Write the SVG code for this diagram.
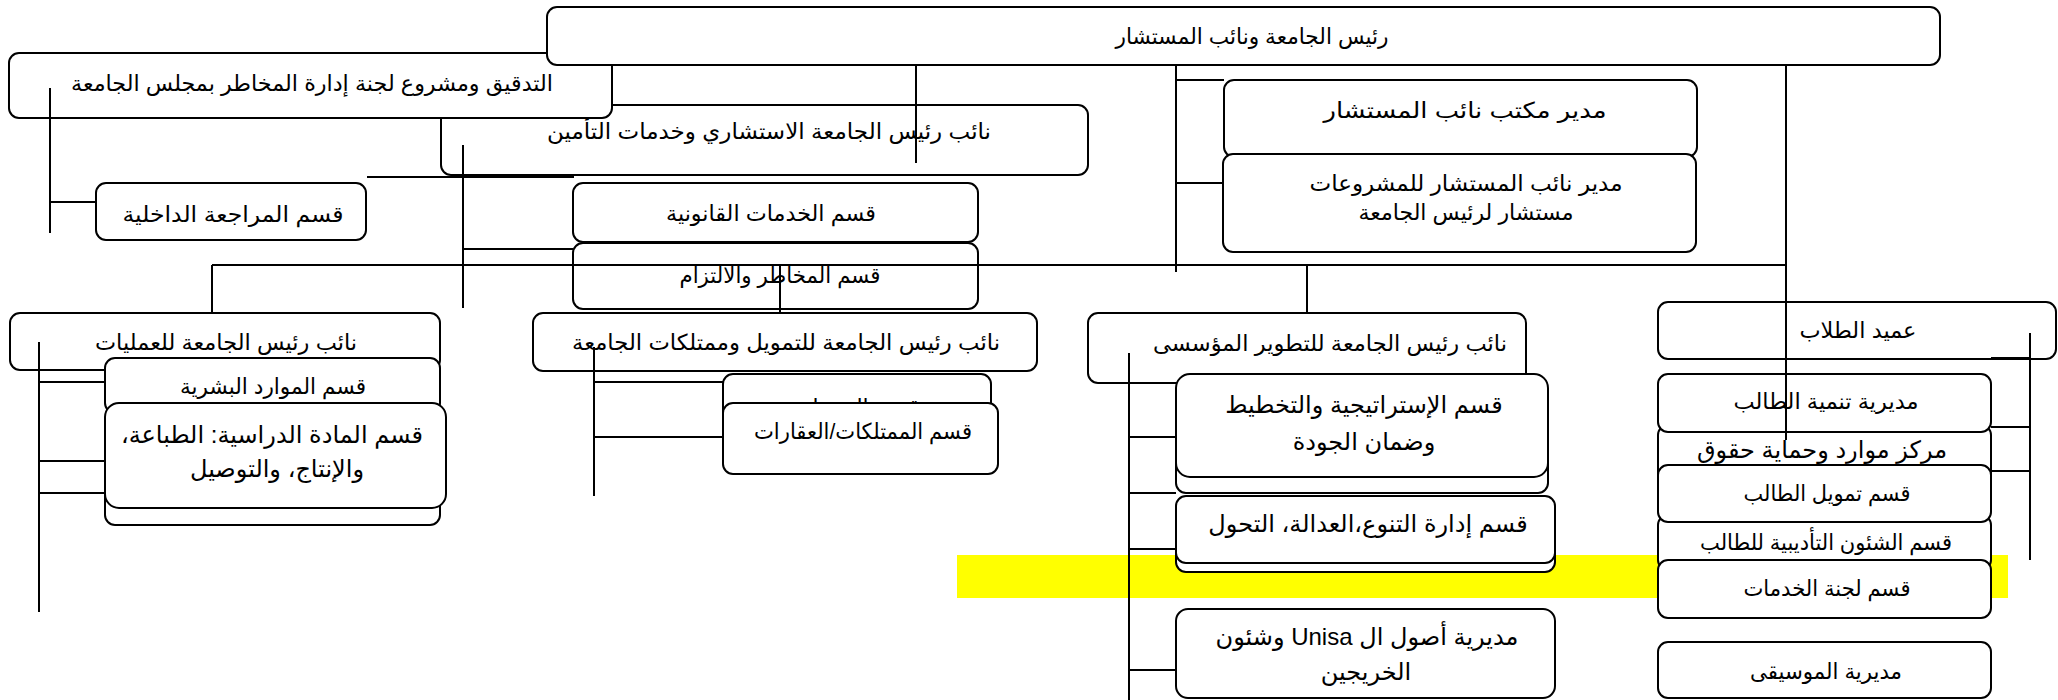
<svg xmlns="http://www.w3.org/2000/svg" width="2058" height="700" viewBox="0 0 2058 700">
<style>
.b{fill:#fff;stroke:#000;stroke-width:2}
.t{font-family:"Liberation Sans","DejaVu Sans",sans-serif;font-size:22px;text-anchor:middle;fill:#000;direction:rtl}
.l{font-size:24px}
.c{stroke:#000;stroke-width:2;fill:none}
</style>
<rect x="957" y="555" width="1051" height="43" fill="#ffff00"/>
<g id="n-istishari"><rect class="b" x="441" y="105" width="647" height="70" rx="10"/><text class="t" x="769" y="139" textLength="444" lengthAdjust="spacingAndGlyphs">نائب رئيس الجامعة الاستشاري وخدمات التأمين</text></g>
<g id="n-tadqiq"><rect class="b" x="9" y="53" width="603" height="65" rx="10"/><text class="t" x="312" y="91" textLength="482" lengthAdjust="spacingAndGlyphs">التدقيق ومشروع لجنة إدارة المخاطر بمجلس الجامعة</text></g>
<g id="n-top"><rect class="b" x="547" y="7" width="1393" height="58" rx="10"/><text class="t" x="1252" y="44" textLength="273" lengthAdjust="spacingAndGlyphs">رئيس الجامعة ونائب المستشار</text></g>
<g id="n-muraja"><rect class="b" x="96" y="183" width="270" height="57" rx="10"/><text class="t" x="233" y="222" textLength="221" lengthAdjust="spacingAndGlyphs">قسم المراجعة الداخلية</text></g>
<g id="n-maktab"><rect class="b" x="1224" y="80" width="473" height="77" rx="10"/><text class="t" x="1465" y="118" textLength="283" lengthAdjust="spacingAndGlyphs">مدير مكتب نائب المستشار</text></g>
<g id="n-mashrouat"><rect class="b" x="1223" y="154" width="473" height="98" rx="10"/><text class="t" x="1466" y="191" textLength="313" lengthAdjust="spacingAndGlyphs">مدير نائب المستشار للمشروعات</text><text class="t" x="1466" y="220" textLength="215" lengthAdjust="spacingAndGlyphs">مستشار لرئيس الجامعة</text></g>
<g id="n-qanuniya"><rect class="b" x="573" y="183" width="405" height="59" rx="10"/><text class="t" x="771" y="221" textLength="210" lengthAdjust="spacingAndGlyphs">قسم الخدمات القانونية</text></g>
<g id="n-makhater"><rect class="b" x="573" y="243" width="405" height="66" rx="10"/><text class="t" x="780" y="283" textLength="201" lengthAdjust="spacingAndGlyphs">قسم المخاطر والالتزام</text></g>
<g id="n-amaliyat"><rect class="b" x="10" y="313" width="430" height="57" rx="10"/><text class="t" x="226" y="350" textLength="262" lengthAdjust="spacingAndGlyphs">نائب رئيس الجامعة للعمليات</text></g>
<g id="n-hidden1"><rect class="b" x="105" y="445" width="335" height="80" rx="10"/></g>
<g id="n-mawarid"><rect class="b" x="105" y="358" width="335" height="55" rx="10"/><text class="t" x="273" y="394" textLength="186" lengthAdjust="spacingAndGlyphs">قسم الموارد البشرية</text></g>
<g id="n-madda"><rect class="b" x="105" y="403" width="341" height="105" rx="14"/><text class="t l" x="272" y="443">قسم المادة الدراسية: الطباعة،</text><text class="t l" x="277" y="477">والإنتاج، والتوصيل</text></g>
<g id="n-tamwil-vp"><rect class="b" x="533" y="313" width="504" height="58" rx="10"/><text class="t" x="786" y="350" textLength="428" lengthAdjust="spacingAndGlyphs">نائب رئيس الجامعة للتمويل وممتلكات الجامعة</text></g>
<g id="n-qism-tamwil"><rect class="b" x="723" y="374" width="268" height="60" rx="10"/><text class="t" x="861" y="415">قسم التمويل</text></g>
<g id="n-mumtalakat"><rect class="b" x="723" y="403" width="275" height="71" rx="10"/><text class="t" x="863" y="439" textLength="218" lengthAdjust="spacingAndGlyphs">قسم الممتلكات/العقارات</text></g>
<g id="n-tatwir"><rect class="b" x="1088" y="313" width="438" height="70" rx="10"/><text class="t" x="1330" y="351" textLength="354" lengthAdjust="spacingAndGlyphs">نائب رئيس الجامعة للتطوير المؤسسى</text></g>
<g id="n-hidden2"><rect class="b" x="1176" y="420" width="372" height="73" rx="10"/></g>
<g id="n-strategy"><rect class="b" x="1176" y="374" width="372" height="103" rx="14"/><text class="t l" x="1364" y="413">قسم الإستراتيجية والتخطيط</text><text class="t l" x="1364" y="450">وضمان الجودة</text></g>
<g id="n-hidden3"><rect class="b" x="1176" y="515" width="379" height="57" rx="10"/></g>
<g id="n-tanawu"><rect class="b" x="1176" y="496" width="379" height="67" rx="10"/><text class="t l" x="1368" y="532">قسم إدارة التنوع،العدالة، التحول</text></g>
<g id="n-unisa"><rect class="b" x="1176" y="609" width="379" height="89" rx="12"/><text class="t l" x="1367" y="645">مديرية أصول ال Unisa وشئون</text><text class="t l" x="1366" y="680">الخريجين</text></g>
<g id="n-ameed"><rect class="b" x="1658" y="302" width="398" height="57" rx="10"/><text class="t" x="1858" y="338" textLength="117" lengthAdjust="spacingAndGlyphs">عميد الطلاب</text></g>
<g id="n-markaz"><rect class="b" x="1658" y="425" width="333" height="60" rx="10"/><text class="t l" x="1822" y="458">مركز موارد وحماية حقوق</text></g>
<g id="n-shuun"><rect class="b" x="1658" y="515" width="333" height="55" rx="10"/><text class="t" x="1826" y="550" textLength="252" lengthAdjust="spacingAndGlyphs">قسم الشئون التأديبية للطالب</text></g>
<g id="n-tanmiya"><rect class="b" x="1658" y="374" width="333" height="58" rx="10"/><text class="t" x="1826" y="409" textLength="185" lengthAdjust="spacingAndGlyphs">مديرية تنمية الطالب</text></g>
<g id="n-tamwil-talib"><rect class="b" x="1658" y="465" width="333" height="57" rx="10"/><text class="t" x="1827" y="501" textLength="167" lengthAdjust="spacingAndGlyphs">قسم تمويل الطالب</text></g>
<g id="n-lajna"><rect class="b" x="1658" y="560" width="333" height="58" rx="10"/><text class="t" x="1827" y="596" textLength="167" lengthAdjust="spacingAndGlyphs">قسم لجنة الخدمات</text></g>
<g id="n-musiqa"><rect class="b" x="1658" y="642" width="333" height="56" rx="10"/><text class="t" x="1826" y="679" textLength="152" lengthAdjust="spacingAndGlyphs">مديرية الموسيقى</text></g>
<g id="connectors" class="c">
<path d="M50 88V233M50 202H96"/>
<path d="M367 177H574"/>
<path d="M463 145V308M463 249H573"/>
<path d="M916 65V163"/>
<path d="M1176 65V272M1176 80H1224M1176 183H1223"/>
<path d="M212 265H1786M212 265V313M780 265V313M1307 265V313"/>
<path d="M1786 65V440"/>
<path d="M39 342V612M39 382H105M39 461H105M39 493H105"/>
<path d="M594 347V496M594 382H723M594 437H723"/>
<path d="M1129 353V700M1129 437H1176M1129 493H1176M1129 549H1176M1129 670H1176"/>
<path d="M2030 333V560M1991 358H2030M1991 427H2030M1991 471H2030"/>
</g>
</svg>
